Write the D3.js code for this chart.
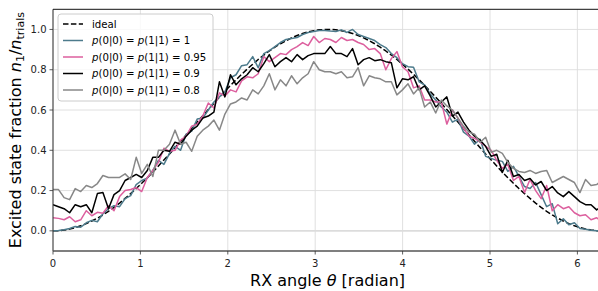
<!DOCTYPE html>
<html>
<head>
<meta charset="utf-8">
<script src="https://cdn.jsdelivr.net/npm/d3@7"></script>
<style>
  body { margin: 0; background: #fff; }
  svg { display: block; font-family: "DejaVu Sans", sans-serif; }
  .tick-label { font-size: 10px; fill: #222; }
  .axis-tag { font-size: 16px; fill: #000; }
  .legend-text { font-size: 10.2px; fill: #000; }
</style>
</head>
<body>
<div id="chart"></div>
<script>
// rotation angle theta (radian), 100 samples from 0 to 2pi
const theta = [
  0.000, 0.063, 0.127, 0.190, 0.254, 0.317, 0.381, 0.444, 0.508, 0.571,
  0.635, 0.698, 0.762, 0.825, 0.889, 0.952, 1.015, 1.079, 1.142, 1.206,
  1.269, 1.333, 1.396, 1.460, 1.523, 1.587, 1.650, 1.714, 1.777, 1.841,
  1.904, 1.967, 2.031, 2.094, 2.158, 2.221, 2.285, 2.348, 2.412, 2.475,
  2.539, 2.602, 2.666, 2.729, 2.793, 2.856, 2.919, 2.983, 3.046, 3.110,
  3.173, 3.237, 3.300, 3.364, 3.427, 3.491, 3.554, 3.618, 3.681, 3.744,
  3.808, 3.871, 3.935, 3.998, 4.062, 4.125, 4.189, 4.252, 4.316, 4.379,
  4.443, 4.506, 4.570, 4.633, 4.697, 4.760, 4.823, 4.887, 4.950, 5.014,
  5.077, 5.141, 5.204, 5.268, 5.331, 5.395, 5.458, 5.522, 5.585, 5.648,
  5.712, 5.775, 5.839, 5.902, 5.966, 6.029, 6.093, 6.156, 6.220, 6.283
];

const ideal = [
  0.000, 0.001, 0.004, 0.009, 0.016, 0.025, 0.036, 0.049, 0.063, 0.079,
  0.097, 0.117, 0.138, 0.161, 0.185, 0.210, 0.236, 0.264, 0.292, 0.322,
  0.352, 0.382, 0.413, 0.445, 0.476, 0.508, 0.540, 0.571, 0.602, 0.633,
  0.664, 0.693, 0.722, 0.750, 0.777, 0.803, 0.827, 0.851, 0.873, 0.893,
  0.912, 0.929, 0.944, 0.958, 0.970, 0.980, 0.988, 0.994, 0.998, 1.000,
  1.000, 0.998, 0.994, 0.988, 0.980, 0.970, 0.958, 0.944, 0.929, 0.912,
  0.893, 0.873, 0.851, 0.827, 0.803, 0.777, 0.750, 0.722, 0.693, 0.664,
  0.633, 0.602, 0.571, 0.540, 0.508, 0.476, 0.445, 0.413, 0.382, 0.352,
  0.322, 0.292, 0.264, 0.236, 0.210, 0.185, 0.161, 0.138, 0.117, 0.097,
  0.079, 0.063, 0.049, 0.036, 0.025, 0.016, 0.009, 0.004, 0.001, 0.000
];

// p(0|0) = p(1|1) = 1
const fid_100 = [
  0.000, 0.002, 0.005, 0.012, 0.022, 0.018, 0.040, 0.052, 0.045, 0.085,
  0.110, 0.125, 0.120, 0.160, 0.175, 0.230, 0.250, 0.262, 0.300, 0.350,
  0.330, 0.385, 0.420, 0.400, 0.480, 0.495, 0.555, 0.560, 0.600, 0.640,
  0.665, 0.690, 0.760, 0.775, 0.820, 0.825, 0.865, 0.810, 0.880, 0.895,
  0.915, 0.935, 0.950, 0.955, 0.960, 0.975, 0.985, 0.990, 0.995, 0.995,
  0.992, 0.990, 0.998, 0.985, 1.000, 0.975, 0.965, 0.955, 0.945, 0.925,
  0.910, 0.880, 0.860, 0.830, 0.815, 0.812, 0.740, 0.725, 0.680, 0.650,
  0.615, 0.590, 0.540, 0.555, 0.490, 0.470, 0.430, 0.455, 0.370, 0.360,
  0.350, 0.345, 0.295, 0.320, 0.270, 0.220, 0.210, 0.240, 0.180, 0.120,
  0.135, 0.035, 0.060, 0.030, 0.040, 0.012, 0.008, 0.003, 0.001, 0.000
];

// p(0|0) = p(1|1) = 0.95
const fid_095 = [
  0.065, 0.062, 0.055, 0.070, 0.045, 0.055, 0.100, 0.075, 0.092, 0.088,
  0.125, 0.100, 0.170, 0.200, 0.205, 0.215, 0.195, 0.265, 0.300, 0.340,
  0.410, 0.395, 0.400, 0.450, 0.470, 0.520, 0.530, 0.570, 0.635, 0.610,
  0.685, 0.670, 0.700, 0.690, 0.745, 0.765, 0.760, 0.780, 0.865, 0.840,
  0.860, 0.880, 0.875, 0.900, 0.915, 0.935, 0.920, 0.965, 0.935, 0.955,
  0.950, 0.935, 0.960, 0.945, 0.950, 0.935, 0.925, 0.900, 0.905, 0.880,
  0.800, 0.855, 0.890, 0.815, 0.790, 0.710, 0.720, 0.650, 0.650, 0.640,
  0.640, 0.530, 0.600, 0.560, 0.510, 0.470, 0.460, 0.440, 0.420, 0.400,
  0.350, 0.310, 0.330, 0.250, 0.270, 0.190, 0.255, 0.200, 0.160, 0.225,
  0.100, 0.130, 0.110, 0.120, 0.090, 0.075, 0.080, 0.055, 0.065, 0.045
];

// p(0|0) = p(1|1) = 0.9
const fid_090 = [
  0.130, 0.120, 0.110, 0.090, 0.130, 0.120, 0.130, 0.090, 0.185, 0.190,
  0.110, 0.180, 0.200, 0.250, 0.265, 0.280, 0.265, 0.300, 0.365, 0.365,
  0.400, 0.395, 0.440, 0.430, 0.470, 0.500, 0.520, 0.560, 0.570, 0.590,
  0.740, 0.665, 0.775, 0.725, 0.755, 0.775, 0.810, 0.790, 0.830, 0.875,
  0.815, 0.840, 0.860, 0.840, 0.875, 0.850, 0.870, 0.880, 0.880, 0.880,
  0.915, 0.880, 0.880, 0.865, 0.905, 0.825, 0.850, 0.860, 0.845, 0.850,
  0.840, 0.835, 0.710, 0.755, 0.750, 0.765, 0.700, 0.720, 0.670, 0.615,
  0.640, 0.665, 0.570, 0.590, 0.540, 0.500, 0.470, 0.450, 0.420, 0.370,
  0.380, 0.290, 0.350, 0.270, 0.280, 0.250, 0.260, 0.228, 0.245, 0.200,
  0.220, 0.188, 0.170, 0.195, 0.170, 0.145, 0.130, 0.130, 0.104, 0.125
];

// p(0|0) = p(1|1) = 0.8
const fid_080 = [
  0.205, 0.205, 0.165, 0.155, 0.210, 0.195, 0.225, 0.215, 0.235, 0.275,
  0.265, 0.265, 0.265, 0.283, 0.255, 0.365, 0.285, 0.330, 0.270, 0.400,
  0.400, 0.430, 0.500, 0.430, 0.440, 0.395, 0.470, 0.500, 0.520, 0.550,
  0.500, 0.580, 0.630, 0.640, 0.660, 0.650, 0.700, 0.680, 0.720, 0.780,
  0.700, 0.750, 0.720, 0.770, 0.730, 0.760, 0.780, 0.840, 0.800, 0.790,
  0.790, 0.780, 0.790, 0.760, 0.765, 0.810, 0.720, 0.770, 0.760, 0.755,
  0.740, 0.740, 0.675, 0.700, 0.730, 0.680, 0.710, 0.615, 0.640, 0.585,
  0.650, 0.620, 0.600, 0.560, 0.520, 0.490, 0.480, 0.440, 0.465, 0.390,
  0.400, 0.385, 0.340, 0.310, 0.295, 0.290, 0.300, 0.285, 0.295, 0.300,
  0.240, 0.255, 0.270, 0.255, 0.240, 0.190, 0.255, 0.225, 0.230, 0.250
];

const x_ticks = [0, 1, 2, 3, 4, 5, 6];
const y_ticks = [0.0, 0.2, 0.4, 0.6, 0.8, 1.0];

// legend order = draw order
const series = [
  {key: "ideal", values: ideal, color: "#000000", dash: "5.5,2.4"},
  {key: "1", values: fid_100, color: "#4d7b8c", dash: null},
  {key: "0.95", values: fid_095, color: "#dc5f9e", dash: null},
  {key: "0.9", values: fid_090, color: "#000000", dash: null},
  {key: "0.8", values: fid_080, color: "#888888", dash: null}
];

let total_width = 598;
let total_height = 291;
let plot_left = 53, plot_top = 9.3, plot_bottom = 251;
let px_per_rad = 87.4;

var x = d3.scaleLinear()
    .domain([0, 2 * Math.PI])
    .range([plot_left, plot_left + 2 * Math.PI * px_per_rad]);
var y = d3.scaleLinear()
    .domain([-0.1, 1.1])
    .range([plot_bottom, plot_top]);

var svg = d3.select("#chart").append("svg")
    .attr("width", total_width)
    .attr("height", total_height);

svg.append("defs").append("clipPath")
    .attr("id", "plot-clip")
  .append("rect")
    .attr("x", x.range()[0])
    .attr("y", plot_top)
    .attr("width", x.range()[1] - x.range()[0])
    .attr("height", plot_bottom - plot_top);

// grid
let grid = svg.append("g");
grid.selectAll(".gx").data(x_ticks).enter().append("line")
    .attr("x1", d => x(d)).attr("x2", d => x(d))
    .attr("y1", plot_top).attr("y2", plot_bottom)
    .attr("stroke", "#dcdcdc").attr("stroke-width", 0.9);
grid.selectAll(".gy").data(y_ticks).enter().append("line")
    .attr("x1", x.range()[0]).attr("x2", x.range()[1])
    .attr("y1", d => y(d)).attr("y2", d => y(d))
    .attr("stroke", "#dcdcdc")
    .attr("stroke-width", d => d === 0 ? 1.8 : 0.9);

// lines
var line = d3.line()
    .x((d, i) => x(theta[i]))
    .y(d => y(d));

let lines_g = svg.append("g").attr("clip-path", "url(#plot-clip)");
series.forEach(s => {
  lines_g.append("path")
    .datum(s.values)
    .attr("d", line)
    .attr("fill", "none")
    .attr("stroke", s.color)
    .attr("stroke-width", 1.5)
    .attr("stroke-linejoin", "round")
    .attr("stroke-dasharray", s.dash);
});

// spines
svg.append("line")
    .attr("x1", plot_left).attr("x2", plot_left).attr("y1", plot_top).attr("y2", plot_bottom)
    .attr("stroke", "#333").attr("stroke-width", 1);
svg.append("line")
    .attr("x1", plot_left).attr("x2", x.range()[1]).attr("y1", plot_bottom).attr("y2", plot_bottom)
    .attr("stroke", "#555").attr("stroke-width", 1.3);
svg.append("line")
    .attr("x1", plot_left).attr("x2", x.range()[1]).attr("y1", plot_top).attr("y2", plot_top)
    .attr("stroke", "#111").attr("stroke-width", 1);

// ticks
let ticks_g = svg.append("g");
ticks_g.selectAll(".tx").data(x_ticks).enter().append("line")
    .attr("x1", d => x(d)).attr("x2", d => x(d))
    .attr("y1", plot_bottom).attr("y2", plot_bottom + 3.5)
    .attr("stroke", "#333").attr("stroke-width", 0.8);
ticks_g.selectAll(".lx").data(x_ticks).enter().append("text")
    .attr("class", "tick-label")
    .attr("x", d => x(d))
    .attr("y", 266.5)
    .attr("text-anchor", "middle")
    .text(d => d);
ticks_g.selectAll(".ty").data(y_ticks).enter().append("line")
    .attr("x1", plot_left - 3.5).attr("x2", plot_left)
    .attr("y1", d => y(d)).attr("y2", d => y(d))
    .attr("stroke", "#333").attr("stroke-width", 0.8);
ticks_g.selectAll(".ly").data(y_ticks).enter().append("text")
    .attr("class", "tick-label")
    .attr("x", 46.5)
    .attr("y", d => y(d) + 3.6)
    .attr("text-anchor", "end")
    .text(d => d3.format(".1f")(d));

// axis labels
let xl = svg.append("text")
    .attr("class", "axis-tag")
    .attr("x", (x.range()[0] + x.range()[1]) / 2)
    .attr("y", 285.5)
    .attr("text-anchor", "middle");
xl.append("tspan").text("RX angle ");
xl.append("tspan").attr("font-style", "italic").text("θ");
xl.append("tspan").text(" [radian]");

let yl = svg.append("text")
    .attr("class", "axis-tag")
    .attr("transform", "translate(21," + ((plot_top + plot_bottom) / 2) + ") rotate(-90)")
    .attr("text-anchor", "middle");
yl.append("tspan").text("Excited state fraction ");
yl.append("tspan").attr("font-style", "italic").text("n");
yl.append("tspan").attr("font-size", "11px").attr("dy", 3.2).text("1");
yl.append("tspan").attr("dy", -3.2).text("/");
yl.append("tspan").attr("font-style", "italic").text("n");
yl.append("tspan").attr("font-size", "11px").attr("dy", 3.2).text("trials");

// legend
let legend = svg.append("g");
legend.append("rect")
    .attr("x", 58).attr("y", 14)
    .attr("width", 155).attr("height", 87)
    .attr("rx", 3).attr("ry", 3)
    .attr("fill", "#fff").attr("fill-opacity", 0.8)
    .attr("stroke", "#cccccc").attr("stroke-width", 1);

series.forEach((s, i) => {
  let yy = 24 + i * 16.5;
  legend.append("line")
    .attr("x1", 63).attr("x2", 83)
    .attr("y1", yy).attr("y2", yy)
    .attr("stroke", s.color).attr("stroke-width", 1.5)
    .attr("stroke-dasharray", s.dash);
  let t = legend.append("text")
    .attr("class", "legend-text")
    .attr("x", 92).attr("y", yy + 3.6);
  if (s.key === "ideal") {
    t.text("ideal");
  } else {
    t.append("tspan").attr("font-style", "italic").text("p");
    t.append("tspan").text("(0|0) = ");
    t.append("tspan").attr("font-style", "italic").text("p");
    t.append("tspan").text("(1|1) = " + s.key);
  }
});
</script>
</body>
</html>
